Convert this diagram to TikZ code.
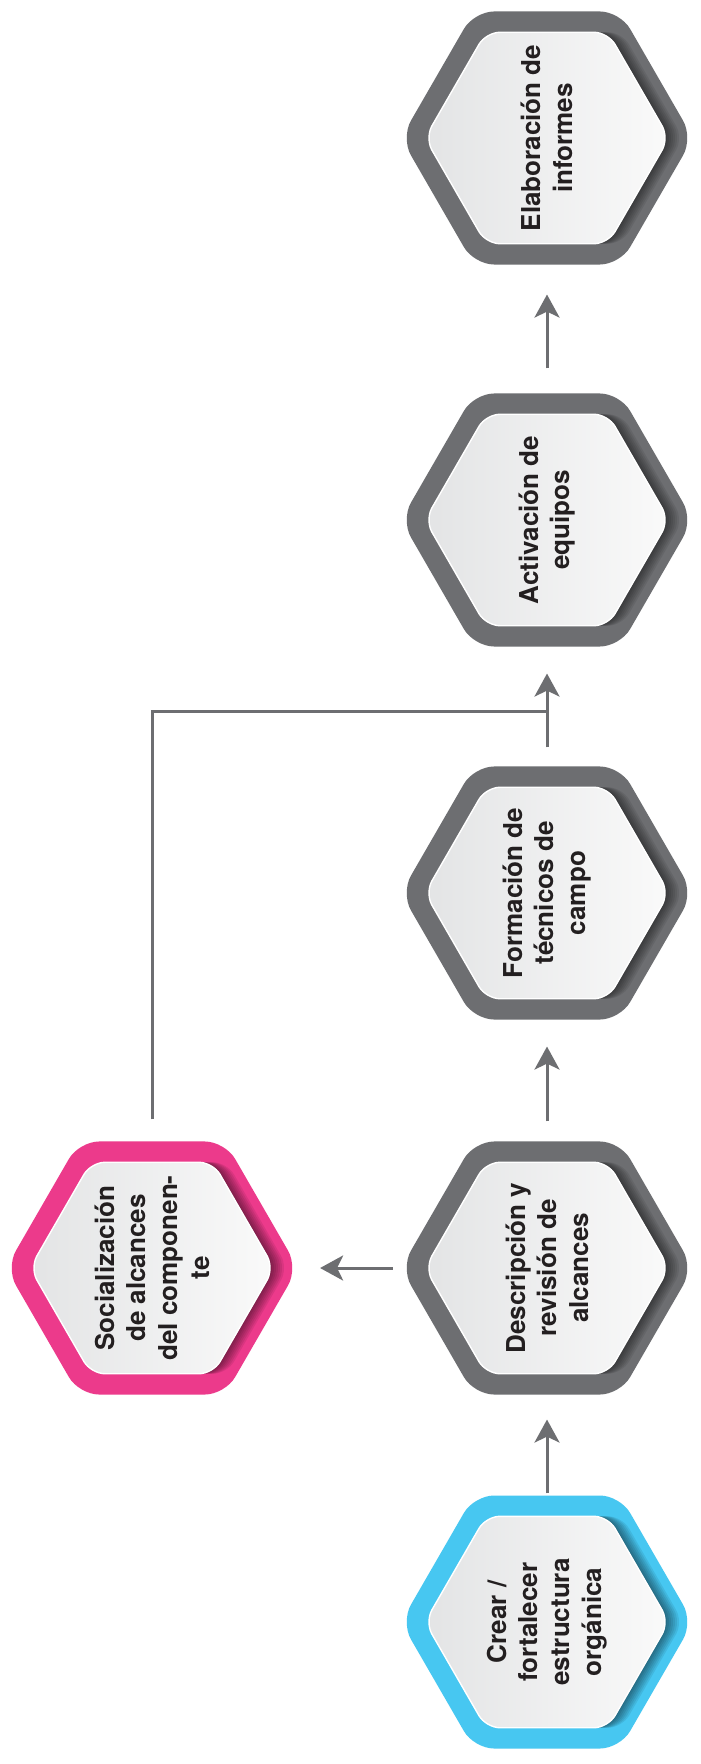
\documentclass[tikz,border=0pt]{standalone}
\usepackage{fontspec}
\setmainfont{TeX Gyre Heros}
\usepackage{tikz}
\usetikzlibrary{arrows.meta,positioning,shapes.geometric,calc}
\usepackage{xcolor}
\definecolor{hexgray}{HTML}{6D6E71}
\definecolor{hexblue}{HTML}{47C7F1}
\definecolor{hexpink}{HTML}{EC3A8B}
\definecolor{plateleft}{HTML}{E3E4E5}
\definecolor{plateright}{HTML}{FAFAFA}
\definecolor{txtdark}{HTML}{231F20}

\tikzset{
  hexring/.style={regular polygon, regular polygon sides=6, minimum size=2.92cm,
    inner sep=0pt, outer sep=0pt, rounded corners=0.2cm, fill=#1, draw=none},
  hexshadow/.style={regular polygon, regular polygon sides=6, minimum size=2.44cm,
    inner sep=0pt, rounded corners=0.14cm, fill=black, fill opacity=0.08, draw=none},
  hexplate/.style={regular polygon, regular polygon sides=6, minimum size=2.44cm,
    inner sep=0pt, rounded corners=0.14cm, left color=plateleft, right color=plateright,
    draw=white, line width=0.4pt},
  hextext/.style={rotate=90, align=center, text=txtdark,
    font=\fontsize{7.4}{9}\selectfont\bfseries},
  flow/.style={draw=hexgray, line width=0.03cm},
  flowarrow/.style={flow, -{Stealth[length=0.23cm, width=0.25cm, inset=0.06cm]}},
}

% name, position, ring colour, text
\newcommand{\hexstep}[4]{%
  \node[hexring=#3] (#1) at #2 {};
  \foreach \s in {2,4,...,14} \node[hexshadow] at ($#2+(\s,0)$) {};
  \node[hexplate] at #2 {};
  \node[hextext] at #2 {#4};
}

\begin{document}
\begin{tikzpicture}[x=0.01cm, y=-0.01cm]
\useasboundingbox (0,0) rectangle (700,1764);
\fill[white] (0,0) rectangle (700,1764);

% steps
\hexstep{crear}{(547,1622)}{hexblue}{Crear /\\fortalecer\\estructura\\orgánica}
\hexstep{desc}{(547,1268)}{hexgray}{Descripción y\\revisión de\\alcances}
\hexstep{social}{(152,1268)}{hexpink}{Socialización\\de alcances\\del componen-\\te}
\hexstep{form}{(547,893)}{hexgray}{Formación de\\técnicos de\\campo}
\hexstep{act}{(547,520)}{hexgray}{Activación de\\equipos}
\hexstep{elab}{(547,138)}{hexgray}{Elaboración de\\informes}

% connectors
\coordinate (merge) at (547,711);
\draw[flowarrow, shorten <=0.02cm, shorten >=0.25cm] (crear.north) -- (desc.south);
\draw[flowarrow, shorten <=0.08cm, shorten >=0.22cm] (desc.west) -- (social.east);
\draw[flowarrow, shorten <=0.2cm, shorten >=0.27cm] (desc.north) -- (form.south);
\draw[flowarrow, shorten <=0.19cm, shorten >=0.27cm] (form.north) -- (act.south);
\draw[flowarrow, shorten <=0.25cm, shorten >=0.3cm] (act.north) -- (elab.south);
\draw[flow, shorten <=0.22cm] (social.north) |- (merge);
\end{tikzpicture}
\end{document}
